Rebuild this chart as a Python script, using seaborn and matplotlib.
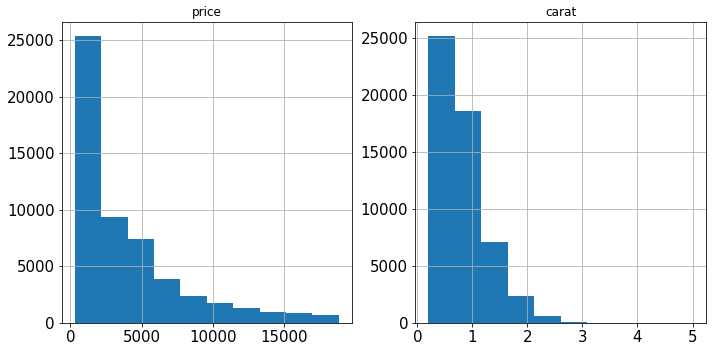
import numpy as np
import pandas as pd
import matplotlib
matplotlib.use("Agg")
import matplotlib.pyplot as plt
import seaborn as sns

# Data (10-bin histograms)
price_min, price_max = 326, 18823
price_counts = [25335, 9328, 7393, 3878, 2364, 1745, 1306, 1002, 863, 726]
carat_min, carat_max = 0.2, 5.01
carat_counts = [25155, 18626, 7129, 2349, 614, 53, 6, 5, 2, 1]
titles = ["price", "carat"]
price_ticks = [0, 5000, 10000, 15000]
carat_ticks = [0, 1, 2, 3, 4, 5]

DPI = 72
fig, axes = plt.subplots(1, 2, figsize=(712 / DPI, 352 / DPI), dpi=DPI)
fig.patch.set_facecolor("white")

specs = [
    (price_min, price_max, price_counts, price_ticks),
    (carat_min, carat_max, carat_counts, carat_ticks),
]
for ax, title, (lo, hi, counts, ticks) in zip(axes, titles, specs):
    edges = np.linspace(lo, hi, len(counts) + 1)
    centers = (edges[:-1] + edges[1:]) / 2
    df = pd.DataFrame({"value": centers, "count": np.asarray(counts, dtype=float)})
    sns.histplot(data=df, x="value", weights="count", bins=list(edges), ax=ax,
                 color="#1f77b4", alpha=1, linewidth=0)
    ax.grid(True, color="#b0b0b0", linewidth=0.8)
    ax.set_xlabel("")
    ax.set_ylabel("")
    ax.set_title(title, fontsize=12)
    ax.tick_params(labelsize=15)
    ax.set_xticks(ticks)
    span = hi - lo
    ax.set_xlim(lo - 0.05 * span, hi + 0.05 * span)
    for s in ax.spines.values():
        s.set_color("black")

bottom, top = 0.0824, 0.9375
axes[0].set_position([0.087, bottom, 0.494 - 0.087, top - bottom])
axes[1].set_position([0.583, bottom, 0.992 - 0.583, top - bottom])
fig.savefig("out.png", dpi=DPI)
